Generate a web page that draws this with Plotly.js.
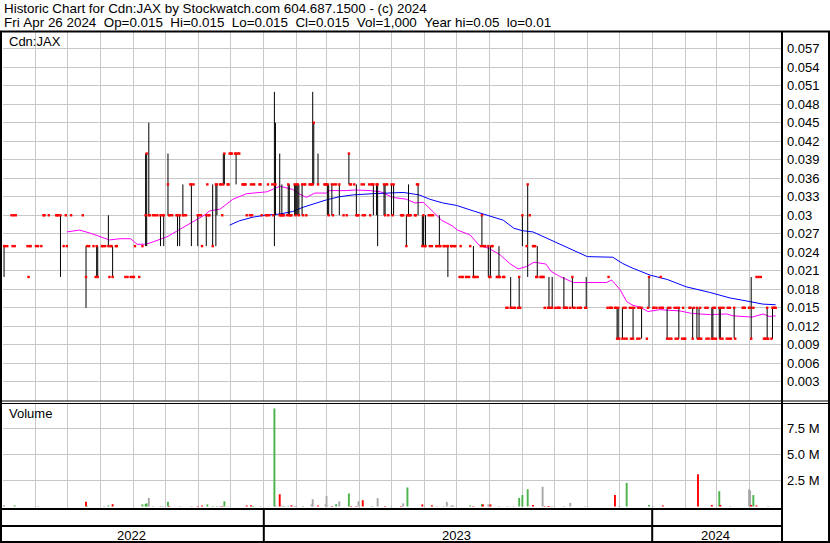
<!DOCTYPE html>
<html><head><meta charset="utf-8">
<script src="https://cdn.plot.ly/plotly-3.0.1.min.js"></script>
<style>html,body{margin:0;padding:0;background:#fff}#chart{width:830px;height:543px}</style>
</head><body><div id="chart"></div>
<script>
// ---- daily closes (red ticks) ----
const dates = [
'2022-05-02','2022-05-03','2022-05-05','2022-05-09','2022-05-10','2022-05-11','2022-05-12','2022-05-13','2022-05-24','2022-05-25','2022-05-26','2022-05-27',
'2022-06-01','2022-06-03','2022-06-06','2022-06-08','2022-06-09','2022-06-13','2022-06-20','2022-06-21','2022-06-22','2022-06-24','2022-06-27','2022-06-29','2022-06-30',
'2022-07-04','2022-07-15','2022-07-18','2022-07-19','2022-07-21','2022-07-25','2022-07-27','2022-07-28','2022-07-29',
'2022-08-02','2022-08-03','2022-08-05','2022-08-08','2022-08-09','2022-08-10','2022-08-11','2022-08-12','2022-08-15','2022-08-16','2022-08-24','2022-08-26','2022-08-29','2022-08-31',
'2022-09-01','2022-09-02','2022-09-06','2022-09-09','2022-09-12','2022-09-13','2022-09-15','2022-09-16','2022-09-19','2022-09-21','2022-09-23','2022-09-26','2022-09-28','2022-09-29',
'2022-10-03','2022-10-04','2022-10-05','2022-10-07','2022-10-11','2022-10-12','2022-10-14','2022-10-17','2022-10-18','2022-10-20','2022-10-24','2022-10-25','2022-10-27','2022-10-31',
'2022-11-01','2022-11-03','2022-11-04','2022-11-08','2022-11-09','2022-11-10','2022-11-11','2022-11-14','2022-11-17','2022-11-18','2022-11-21','2022-11-22','2022-11-23','2022-11-24','2022-11-25','2022-11-28','2022-11-29','2022-11-30',
'2022-12-01','2022-12-02','2022-12-05','2022-12-06','2022-12-08','2022-12-09','2022-12-12','2022-12-13','2022-12-14','2022-12-15','2022-12-16','2022-12-19','2022-12-20','2022-12-21','2022-12-22','2022-12-23','2022-12-28','2022-12-29','2022-12-30',
'2023-01-03','2023-01-04','2023-01-05','2023-01-06','2023-01-09','2023-01-10','2023-01-11','2023-01-12','2023-01-16','2023-01-17','2023-01-18','2023-01-19','2023-01-20','2023-01-23','2023-01-24','2023-01-25','2023-01-26','2023-01-27','2023-01-30','2023-01-31',
'2023-02-01','2023-02-02','2023-02-03','2023-02-06','2023-02-07','2023-02-08','2023-02-09','2023-02-10','2023-02-13','2023-02-14','2023-02-15','2023-02-16','2023-02-17','2023-02-21','2023-02-27','2023-02-28',
'2023-03-01','2023-03-02','2023-03-03','2023-03-06','2023-03-07','2023-03-08','2023-03-10','2023-03-13','2023-03-17','2023-03-20','2023-03-22','2023-03-23','2023-03-24','2023-03-27','2023-03-29','2023-03-30','2023-03-31',
'2023-04-03','2023-04-04','2023-04-05','2023-04-06','2023-04-10','2023-04-11','2023-04-12','2023-04-13','2023-04-14','2023-04-17','2023-04-18','2023-04-24','2023-04-25','2023-04-26','2023-04-27','2023-04-28',
'2023-05-01','2023-05-02','2023-05-03','2023-05-10','2023-05-11','2023-05-12','2023-05-15','2023-05-16','2023-05-17','2023-05-18','2023-05-19','2023-05-23','2023-05-24','2023-05-25','2023-05-26','2023-05-30','2023-05-31',
'2023-06-01','2023-06-02','2023-06-05','2023-06-06','2023-06-07','2023-06-08','2023-06-09','2023-06-12','2023-06-13','2023-06-15','2023-06-16','2023-06-19','2023-06-20','2023-06-22','2023-06-23','2023-06-26','2023-06-27','2023-06-29','2023-06-30',
'2023-07-04','2023-07-05','2023-07-06','2023-07-07','2023-07-10','2023-07-11','2023-07-13','2023-07-14','2023-07-17','2023-07-18','2023-07-19','2023-07-21','2023-07-24','2023-07-25','2023-07-26','2023-07-27','2023-07-28','2023-07-31',
'2023-08-01','2023-08-02','2023-08-03','2023-08-04','2023-08-08','2023-08-09','2023-08-10','2023-08-11','2023-08-14','2023-08-15','2023-08-17','2023-08-18','2023-08-21','2023-08-22','2023-08-24','2023-08-25','2023-08-28','2023-08-29','2023-08-30',
'2023-09-01','2023-09-05','2023-09-06','2023-09-08','2023-09-11','2023-09-12','2023-09-13','2023-09-14','2023-09-15','2023-09-18','2023-09-19','2023-09-20','2023-09-21','2023-09-22','2023-09-25','2023-09-26','2023-09-28','2023-09-29',
'2023-10-02','2023-10-04','2023-10-05','2023-10-06','2023-10-10','2023-10-11','2023-10-12','2023-10-13','2023-10-16','2023-10-18','2023-10-19','2023-10-20','2023-10-23','2023-10-25','2023-10-26','2023-10-30','2023-10-31',
'2023-11-20','2023-11-21','2023-11-22','2023-11-23','2023-11-24','2023-11-27','2023-11-28','2023-11-29','2023-11-30',
'2023-12-01','2023-12-04','2023-12-05','2023-12-06','2023-12-07','2023-12-08','2023-12-11','2023-12-12','2023-12-13','2023-12-14','2023-12-15','2023-12-18','2023-12-19','2023-12-20','2023-12-21','2023-12-22','2023-12-27','2023-12-28','2023-12-29',
'2024-01-02','2024-01-03','2024-01-05','2024-01-08','2024-01-09','2024-01-10','2024-01-11','2024-01-15','2024-01-16','2024-01-17','2024-01-18','2024-01-19','2024-01-22','2024-01-23','2024-01-24','2024-01-25','2024-01-26','2024-01-29','2024-01-30','2024-01-31',
'2024-02-01','2024-02-05','2024-02-06','2024-02-08','2024-02-09','2024-02-12','2024-02-13','2024-02-14','2024-02-15','2024-02-16','2024-02-20','2024-02-21','2024-02-22','2024-02-23','2024-02-26','2024-02-27','2024-02-28','2024-02-29',
'2024-03-01','2024-03-04','2024-03-05','2024-03-06','2024-03-07','2024-03-08','2024-03-11','2024-03-12','2024-03-13','2024-03-14','2024-03-15','2024-03-18','2024-03-19','2024-03-26','2024-03-27','2024-03-28',
'2024-04-01','2024-04-02','2024-04-03','2024-04-05','2024-04-08','2024-04-10','2024-04-12','2024-04-15','2024-04-16','2024-04-17','2024-04-18','2024-04-19','2024-04-22','2024-04-23','2024-04-24','2024-04-25','2024-04-26'
];
const close = [
.025,.025,.025,.03,.025,.03,.025,.03,.025,.02,.025,.025,
.025,.025,.025,.03,.03,.03,.03,.03,.03,.03,.025,.03,.025,
.03,.03,.02,.025,.025,.025,.02,.025,.02,
.025,.025,.025,.025,.02,.025,.025,.02,.025,.025,.02,.02,.02,.02,
.02,.025,.02,.025,.03,.04,.03,.03,.03,.03,.03,.03,.03,.03,
.035,.03,.03,.03,.03,.03,.03,.03,.03,.03,.035,.035,.035,.03,
.03,.03,.025,.03,.035,.03,.03,.025,.035,.035,.035,.035,.03,.035,.04,.035,.035,.04,
.04,.04,.04,.04,.04,.04,.035,.035,.035,.035,.03,.03,.035,.03,.035,.035,.035,.035,.03,
.03,.03,.035,.03,.035,.03,.035,.035,.03,.03,.03,.03,.03,.03,.035,.03,.03,.03,.035,.03,
.035,.035,.03,.035,.03,.035,.035,.03,.035,.035,.035,.035,.045,.035,.035,.035,
.035,.035,.03,.035,.03,.035,.035,.035,.03,.03,.04,.035,.035,.035,.03,.03,.03,
.035,.03,.035,.03,.035,.03,.035,.035,.035,.035,.035,.035,.03,.035,.035,.03,
.035,.03,.035,.03,.03,.03,.025,.03,.03,.03,.03,.03,.03,.035,.035,.025,.03,
.025,.025,.03,.025,.03,.025,.03,.025,.025,.025,.025,.025,.025,.025,.025,.025,.025,.025,.025,
.02,.025,.02,.02,.02,.02,.02,.025,.02,.02,.02,.02,.025,.03,.025,.025,.025,.025,
.02,.02,.025,.025,.02,.02,.02,.02,.02,.02,.015,.015,.015,.015,.015,.015,.015,.02,.015,
.03,.025,.035,.03,.025,.025,.025,.02,.02,.02,.02,.02,.02,.015,.015,.015,.015,.015,
.015,.015,.015,.015,.015,.015,.015,.015,.015,.02,.015,.015,.015,.015,.015,.015,.015,
.015,.02,.015,.015,.015,.015,.015,.01,.015,
.01,.01,.015,.01,.015,.01,.015,.01,.015,.01,.015,.01,.015,.01,.015,.015,.01,.015,.02,
.015,.015,.015,.015,.02,.015,.015,.01,.015,.01,.015,.01,.015,.01,.015,.01,.015,.01,.015,.01,
.01,.015,.015,.01,.015,.015,.01,.01,.015,.01,.015,.01,.015,.01,.01,.015,.01,.015,
.01,.015,.01,.015,.01,.015,.01,.015,.01,.015,.01,.015,.01,.015,.015,.015,
.015,.015,.01,.015,.02,.02,.02,.01,.01,.01,.015,.01,.01,.015,.015,.015,.015
];

// ---- days with a high-low range (black bars) ----
const barDates = [
'2022-05-02','2022-06-24','2022-07-18','2022-07-28','2022-07-29','2022-08-08','2022-08-12','2022-09-12','2022-09-13','2022-09-15',
'2022-09-26','2022-09-29','2022-10-03','2022-10-12','2022-10-14','2022-10-17','2022-10-25','2022-10-31','2022-11-08','2022-11-14',
'2022-11-17','2022-11-18','2022-11-24','2022-11-25','2022-12-06','2023-01-11','2023-01-12','2023-01-16','2023-01-18','2023-01-24',
'2023-01-25','2023-01-30','2023-01-31','2023-02-01','2023-02-02','2023-02-03','2023-02-06','2023-02-16','2023-02-17','2023-02-21',
'2023-03-02','2023-03-03','2023-03-06','2023-03-13','2023-03-22','2023-03-29','2023-04-14','2023-04-17','2023-04-18','2023-04-24',
'2023-04-25','2023-05-01','2023-05-03','2023-05-15','2023-05-17','2023-05-26','2023-05-30','2023-05-31','2023-06-02','2023-06-15',
'2023-06-23','2023-07-17','2023-07-25','2023-07-31','2023-08-02','2023-08-10','2023-08-21','2023-08-29','2023-09-01','2023-09-06',
'2023-09-15','2023-09-26','2023-09-29','2023-10-10','2023-10-18','2023-10-31','2023-11-29','2023-11-30','2023-12-04','2023-12-14',
'2023-12-22','2023-12-29','2024-01-15','2024-01-26','2024-02-08','2024-02-12','2024-02-14','2024-02-26','2024-02-27','2024-03-04',
'2024-03-05','2024-03-18','2024-04-03','2024-04-18','2024-04-23'
];
const barHigh = [
.025,.03,.025,.025,.025,.03,.025,.04,.04,.045,
.03,.03,.04,.03,.03,.035,.035,.03,.03,.035,
.035,.035,.04,.04,.04,.05,.045,.04,.035,.035,
.035,.035,.035,.035,.035,.035,.035,.05,.045,.04,
.035,.035,.035,.035,.04,.035,.035,.035,.035,.035,
.035,.035,.035,.03,.035,.035,.03,.03,.03,.03,
.025,.025,.03,.025,.025,.025,.02,.02,.03,.035,
.025,.02,.02,.02,.02,.02,.015,.015,.015,.015,
.015,.02,.015,.015,.015,.015,.015,.015,.015,.015,
.015,.015,.02,.015,.015
];
const barLow = [
.02,.02,.015,.02,.02,.025,.02,.025,.025,.03,
.025,.025,.03,.025,.025,.03,.025,.025,.025,.025,
.025,.03,.035,.035,.035,.025,.03,.03,.03,.03,
.03,.03,.03,.03,.03,.03,.03,.035,.035,.035,
.03,.03,.03,.03,.035,.03,.03,.03,.025,.03,
.03,.03,.03,.025,.03,.03,.025,.025,.025,.025,
.02,.02,.025,.02,.02,.02,.015,.015,.025,.02,
.02,.015,.015,.015,.015,.015,.01,.01,.01,.01,
.01,.015,.01,.01,.01,.01,.01,.01,.01,.01,
.01,.01,.01,.01,.01
];

// ---- moving averages ----
const maShortDates = ['2022-06-30','2022-07-12','2022-07-22','2022-08-01','2022-08-09','2022-08-19','2022-08-29','2022-09-04','2022-09-11','2022-09-16','2022-09-23','2022-10-02','2022-10-14','2022-10-27','2022-11-07','2022-11-11','2022-11-21','2022-12-03','2022-12-16','2023-01-04','2023-01-16','2023-01-28','2023-02-04','2023-02-10','2023-02-18','2023-03-01','2023-03-04','2023-03-20','2023-03-28','2023-04-11','2023-04-21','2023-05-02','2023-05-15','2023-05-23','2023-05-31','2023-06-09','2023-06-17','2023-06-27','2023-07-02','2023-07-14','2023-07-22','2023-08-01','2023-08-11','2023-08-20','2023-08-28','2023-09-05','2023-09-12','2023-09-23','2023-09-28','2023-10-06','2023-10-19','2023-11-19','2023-11-24','2023-12-02','2023-12-08','2023-12-14','2023-12-21','2023-12-28','2024-01-08','2024-01-27','2024-02-07','2024-02-24','2024-03-11','2024-03-17','2024-04-04','2024-04-14','2024-04-20','2024-04-26'];
const maShort = [.0273,.0276,.0271,.0265,.026,.0262,.0262,.0253,.0253,.0255,.0259,.0265,.0277,.029,.0301,.0307,.031,.0326,.0335,.0338,.0347,.0342,.0334,.0329,.0336,.0336,.034,.034,.0341,.034,.0338,.0329,.0326,.032,.0321,.0306,.0292,.0283,.0276,.0268,.0252,.0246,.0236,.0222,.0213,.0217,.0224,.0221,.0209,.0201,.0191,.0191,.0195,.0179,.016,.0154,.0151,.0144,.0147,.0145,.0141,.0139,.014,.0137,.0135,.014,.0136,.0137];
const maLongDates = ['2022-11-30','2022-12-09','2022-12-22','2023-01-02','2023-01-16','2023-01-28','2023-02-07','2023-02-20','2023-03-01','2023-03-13','2023-03-26','2023-04-14','2023-04-27','2023-05-12','2023-05-27','2023-06-06','2023-06-18','2023-07-01','2023-07-17','2023-07-30','2023-08-14','2023-08-24','2023-09-01','2023-09-11','2023-09-24','2023-10-09','2023-10-25','2023-11-01','2023-11-25','2023-12-04','2023-12-14','2023-12-30','2024-01-15','2024-02-02','2024-02-24','2024-03-14','2024-03-30','2024-04-14','2024-04-26'];
const maLong = [.0284,.0291,.0297,.03,.0302,.0306,.0313,.032,.0325,.033,.0333,.0335,.0336,.0337,.0333,.0326,.032,.0316,.0307,.03,.0292,.0279,.0275,.0273,.0263,.0251,.0238,.0233,.0232,.0222,.0214,.0203,.0196,.0184,.0175,.0166,.0161,.0156,.0155];

// ---- volume (millions of shares) ----
const volDates = ['2022-05-02','2022-05-12','2022-06-03','2022-07-18','2022-07-19','2022-08-04','2022-08-08','2022-08-12','2022-09-09','2022-09-12','2022-09-13','2022-09-15','2022-09-19','2022-09-26','2022-09-28','2022-10-03','2022-10-04','2022-10-14','2022-10-25','2022-10-31','2022-11-04','2022-11-09','2022-11-14','2022-11-18','2022-11-21','2022-11-23','2022-11-25','2022-11-28','2022-12-16','2022-12-20','2022-12-22','2022-12-29',
'2023-01-11','2023-01-12','2023-01-16','2023-01-18','2023-01-20','2023-01-24','2023-01-27','2023-01-30','2023-01-31','2023-02-07','2023-02-15','2023-02-16','2023-02-21','2023-02-28','2023-03-01','2023-03-02','2023-03-06','2023-03-10','2023-03-13','2023-03-22','2023-03-24','2023-03-29','2023-03-31','2023-04-04','2023-04-13','2023-04-18','2023-04-25','2023-05-01','2023-05-10','2023-05-12','2023-05-16','2023-05-30','2023-06-08','2023-06-13','2023-06-19','2023-06-22','2023-06-26','2023-06-27','2023-06-28',
'2023-07-14','2023-07-17','2023-07-25','2023-07-26','2023-07-31','2023-08-02','2023-08-10','2023-08-18','2023-08-24','2023-08-29','2023-09-01','2023-09-06','2023-09-11','2023-09-20','2023-09-22','2023-09-25','2023-09-26','2023-09-29','2023-10-10','2023-10-16','2023-10-30','2023-11-27','2023-12-01','2023-12-08','2023-12-29',
'2024-01-02','2024-01-11','2024-02-13','2024-02-26','2024-03-04','2024-03-05','2024-03-14','2024-04-01','2024-04-02','2024-04-03','2024-04-05','2024-04-08','2024-04-19'];
const volume = [.12,.1,.05,.45,.05,.05,.1,.22,.2,.25,.3,.83,.05,.05,.05,.45,.05,.05,.05,.05,.1,.2,.05,.05,.05,.05,.5,.05,.1,.12,.05,.05,
9.42,.1,1.18,.08,.05,.08,.12,.05,.05,.05,.2,.7,.1,.2,1.0,.05,.05,.22,.5,1.25,.05,.05,.5,.6,.05,.8,.05,.05,.05,.3,1.83,.2,.12,.05,.05,.45,.05,.1,.1,
.1,.05,.25,.2,.2,.2,.05,.05,.05,.83,1.1,1.66,.15,1.9,.05,.05,.05,.05,.05,.35,.05,1.1,.05,2.27,.15,
.05,.1,3.1,.15,1.47,.15,.05,1.65,1.55,.15,1.1,.1,.05];
const volDir = ['flat','up','flat','down','up','flat','up','down','up','up','up','flat','flat','flat','flat','up','down','flat','flat','down','down','up','up','flat','flat','down','up','flat','down','down','up','flat',
'up','flat','down','flat','up','flat','down','flat','flat','up','flat','flat','down','flat','flat','flat','down','up','flat','up','down','down','flat','down','up','flat','down','flat','down','flat','up','down','down','flat','flat','flat','flat','flat','flat',
'up','down','up','down','flat','down','flat','flat','flat','up','up','up','down','flat','down','down','down','flat','flat','flat','flat','down','up','up','up',
'flat','down','down','down','up','down','flat','flat','flat','down','up','down','flat'];

// ---- axis labels ----
const priceTicks = [0.003,0.006,0.009,0.012,0.015,0.018,0.021,0.024,0.027,0.03,0.033,0.036,0.039,0.042,0.045,0.048,0.051,0.054,0.057];
const priceTickText = ['0.003','0.006','0.009','0.012','0.015','0.018','0.021','0.024','0.027','0.03','0.033','0.036','0.039','0.042','0.045','0.048','0.051','0.054','0.057'];
const volTicks = [2.5,5,7.5];
const volTickText = ['2.5 M','5.0 M','7.5 M'];
const years = ['2022','2023','2024'];
const titleLine1 = 'Historic Chart for Cdn:JAX by Stockwatch.com 604.687.1500 - (c) 2024';
const titleLine2 = 'Fri Apr 26 2024  Op=0.015  Hi=0.015  Lo=0.015  Cl=0.015  Vol=1,000  Year hi=0.05  lo=0.01';

// ---- build ----
const W = 830, H = 543;
const FONT = 'Liberation Sans, Arial, sans-serif';
const segX = [], segY = [];
for (let i = 0; i < barDates.length; i++) {
  segX.push(barDates[i], barDates[i], null);
  segY.push(barHigh[i], barLow[i], null);
}
const dirColor = {up: '#4cb34c', down: '#ff0000', flat: '#a8a8a8'};
const DAY = 86400000;

const traces = [
  {type:'scatter', mode:'lines', x:maShortDates, y:maShort, xaxis:'x', yaxis:'y', line:{color:'#ff00ff', width:1}},
  {type:'scatter', mode:'lines', x:maLongDates, y:maLong, xaxis:'x', yaxis:'y', line:{color:'#0000ff', width:1}},
  {type:'scatter', mode:'lines', x:segX, y:segY, xaxis:'x', yaxis:'y', connectgaps:false, line:{color:'#000000', width:1}},
  {type:'scatter', mode:'markers', x:dates, y:close, xaxis:'x', yaxis:'y', marker:{symbol:'square', size:2.4, color:'#ff0000', line:{width:0}}},
  {type:'bar', x:volDates, y:volume, xaxis:'x2', yaxis:'y2', width:1.8*DAY, marker:{color:volDir.map(d => dirColor[d]), line:{width:0}}}
];

function seg(x0, y0, x1, y1, w) {
  return {type:'line', xref:'paper', yref:'paper', x0:x0/W, y0:1-y0/H, x1:x1/W, y1:1-y1/H, line:{color:'#000', width:w}, layer:'above'};
}
function txt(t, x, y, anchor, size) {
  return {text:t.replace(/ /g, '\u00a0'), xref:'paper', yref:'paper', x:x/W, y:1-y/H, xanchor:anchor||'left', yanchor:'middle', showarrow:false, font:{family:FONT, size:size||13, color:'#000'}, borderpad:0};
}

const xCommon = {type:'date', range:['2022-05-01','2024-05-01'], domain:[3/W, 781/W], tick0:'2022-05-01', dtick:'M1', showticklabels:false, ticks:'', showgrid:true, gridcolor:'#c8c8c8', gridwidth:1, zeroline:false, showline:false, fixedrange:true};

const layout = {
  width: W, height: H,
  margin: {l:0, r:0, t:0, b:0, pad:0},
  paper_bgcolor:'#ffffff', plot_bgcolor:'#ffffff',
  showlegend:false, hovermode:false, dragmode:false,
  font:{family:FONT, size:13, color:'#000'},
  xaxis: Object.assign({}, xCommon, {anchor:'y'}),
  xaxis2: Object.assign({}, xCommon, {anchor:'y2', matches:'x'}),
  yaxis: {domain:[1-401/H, 1-32/H], range:[-0.0001, 0.0597], side:'right', anchor:'x', tickmode:'array', tickvals:priceTicks, ticktext:priceTickText, ticks:'', ticklabelstandoff:5, showgrid:true, gridcolor:'#c8c8c8', gridwidth:1, zeroline:false, showline:false, tickfont:{family:FONT, size:13, color:'#000'}, fixedrange:true},
  yaxis2: {domain:[1-508/H, 1-403/H], range:[-0.144, 9.95], side:'right', anchor:'x2', tickmode:'array', tickvals:volTicks, ticktext:volTickText, ticks:'', ticklabelstandoff:5, showgrid:true, gridcolor:'#c8c8c8', gridwidth:1, zeroline:false, showline:false, tickfont:{family:FONT, size:13, color:'#000'}, fixedrange:true},
  shapes: [
    seg(0, 31.5, 830, 31.5, 2),
    seg(1, 31, 1, 543, 2),
    seg(829, 31, 829, 543, 2),
    seg(0, 542, 830, 542, 2),
    seg(782, 31, 782, 543, 2),
    seg(0, 401, 830, 401, 1),
    seg(0, 403.5, 830, 403.5, 1),
    seg(0, 509, 782, 509, 2),
    seg(0, 526, 782, 526, 2),
    seg(263.8, 509, 263.8, 542, 2),
    seg(652.2, 509, 652.2, 542, 2)
  ],
  annotations: [
    txt(titleLine1, 3, 8.5, 'left', 13.4),
    txt(titleLine2, 3, 22.5, 'left', 13.4),
    txt('Cdn:JAX', 8, 41.5),
    txt('Volume', 8, 413.5),
    txt(years[0], 131.5, 535, 'center'),
    txt(years[1], 456, 535, 'center'),
    txt(years[2], 715.5, 535, 'center')
  ]
};

Plotly.newPlot('chart', traces, layout, {staticPlot:true, displayModeBar:false});
</script></body></html>
